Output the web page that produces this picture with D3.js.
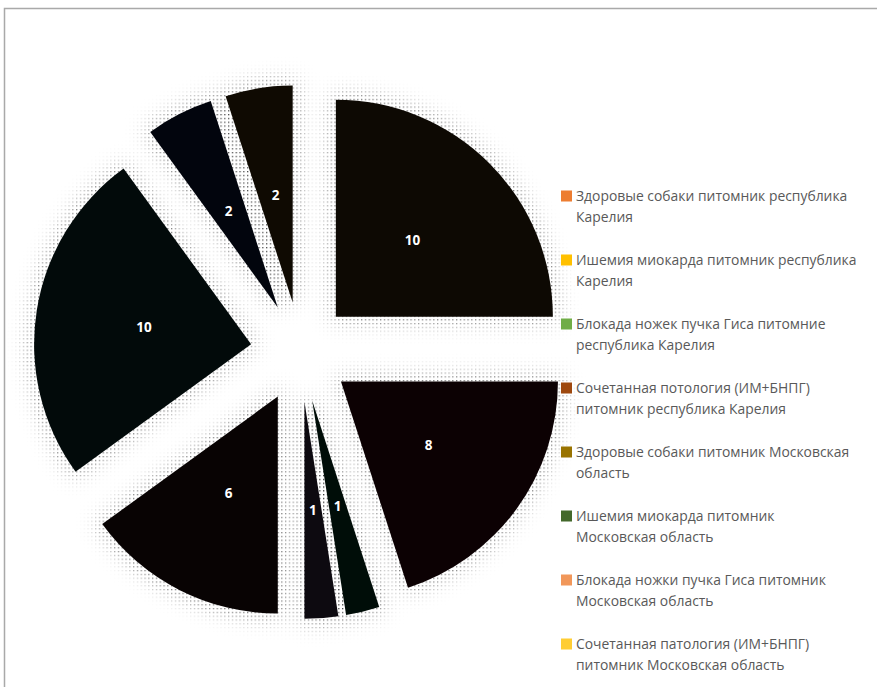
<!DOCTYPE html>
<html>
<head>
<meta charset="utf-8">
<script src="https://cdn.jsdelivr.net/npm/d3@7"></script>
<style>
  body { margin: 0; background: #fff; }
  svg { display: block; }
  text { font-family: "Open Sans", "DejaVu Sans", sans-serif; }
</style>
</head>
<body>
<div id="chart"></div>
<script>
var w = 877;
var h = 687;
var cx = 300.5;
var cy = 352;
var radius = 217;
var explode = 50;
var legendX = 561;
var legendTop = 196;
var legendStep = 64;

// categories, in legend order (line break as shown in the legend)
var categories = [
  "Здоровые собаки питомник республика\nКарелия",
  "Ишемия миокарда питомник республика\nКарелия",
  "Блокада ножек пучка Гиса питомние\nреспублика Карелия",
  "Сочетанная потология (ИМ+БНПГ)\nпитомник республика Карелия",
  "Здоровые собаки питомник Московская\nобласть",
  "Ишемия миокарда питомник\nМосковская область",
  "Блокада ножки пучка Гиса питомник\nМосковская область",
  "Сочетанная патология (ИМ+БНПГ)\nпитомник Московская область"
];

var values = [10, 8, 1, 1, 6, 10, 2, 2];

var legendColors = ["#ED7D31", "#FFC000", "#70AD47", "#9E480E",
                    "#997300", "#43682B", "#F1975A", "#FFCD33"];

// the slices come out almost black in the picture
var sliceColors = ["#0d0903", "#0c0103", "#000d08", "#0d0a10",
                   "#080303", "#020a0a", "#02050d", "#0f0a02"];

function drawChart() {
  var svg = d3.select("#chart")
    .append("svg")
    .attr("width", w)
    .attr("height", h);

  var defs = svg.append("defs");

  // halftone dots used for the shadow
  var pattern = defs.append("pattern")
    .attr("id", "dots")
    .attr("patternUnits", "userSpaceOnUse")
    .attr("width", 3.8)
    .attr("height", 3.8);
  pattern.append("rect")
    .attr("width", 1.3)
    .attr("height", 1.3)
    .attr("fill", "#000");

  var blur = defs.append("filter")
    .attr("id", "blur")
    .attr("x", "-30%").attr("y", "-30%")
    .attr("width", "160%").attr("height", "160%");
  blur.append("feGaussianBlur").attr("stdDeviation", 10);

  var mask = defs.append("mask")
    .attr("id", "shadowMask")
    .attr("maskUnits", "userSpaceOnUse")
    .attr("x", 0).attr("y", 0)
    .attr("width", w).attr("height", h);

  // frame
  svg.append("rect")
    .attr("x", 4.5)
    .attr("y", 8.5)
    .attr("width", w + 10)
    .attr("height", h + 10)
    .attr("fill", "none")
    .attr("stroke", "#a9a9a9")
    .attr("stroke-width", 1.5);

  var pie = d3.pie().sort(null).value(function(d) { return d; });
  var arcs = pie(values);

  var arc = d3.arc()
    .innerRadius(0)
    .outerRadius(radius);

  function offset(d) {
    var a = (d.startAngle + d.endAngle) / 2;
    return "translate(" + (cx + Math.sin(a) * explode) + "," + (cy - Math.cos(a) * explode) + ")";
  }

  mask.append("g")
    .attr("filter", "url(#blur)")
    .selectAll("path")
    .data(arcs)
    .enter()
    .append("path")
    .attr("transform", offset)
    .attr("d", arc)
    .attr("fill", "#ccc")
    .attr("stroke", "#ccc")
    .attr("stroke-width", 12);

  svg.append("rect")
    .attr("width", w)
    .attr("height", h)
    .attr("fill", "url(#dots)")
    .attr("mask", "url(#shadowMask)");

  var slices = svg.append("g")
    .selectAll("g")
    .data(arcs)
    .enter()
    .append("g")
    .attr("transform", offset);

  slices.append("path")
    .attr("d", arc)
    .attr("fill", function(d, i) { return sliceColors[i]; });

  slices.append("text")
    .attr("transform", function(d) { return "translate(" + arc.centroid(d) + ")"; })
    .attr("text-anchor", "middle")
    .attr("dy", "0.35em")
    .attr("fill", "#fff")
    .attr("font-size", 13.5)
    .attr("font-weight", "bold")
    .text(function(d) { return d.data; });

  var legend = svg.append("g")
    .selectAll("g")
    .data(categories)
    .enter()
    .append("g")
    .attr("transform", function(d, i) {
      return "translate(" + legendX + "," + (legendTop + legendStep * i) + ")";
    });

  legend.append("rect")
    .attr("x", 0)
    .attr("y", -5.5)
    .attr("width", 11)
    .attr("height", 11)
    .attr("fill", function(d, i) { return legendColors[i]; });

  var label = legend.append("text")
    .attr("x", 15)
    .attr("y", 0)
    .attr("fill", "#595959")
    .attr("font-size", 13.9);

  label.selectAll("tspan")
    .data(function(d) { return d.split("\n"); })
    .enter()
    .append("tspan")
    .attr("x", 15)
    .attr("y", function(d, j) { return j * 21; })
    .attr("dy", "0.35em")
    .text(function(d) { return d; });
}

drawChart();
</script>
</body>
</html>
